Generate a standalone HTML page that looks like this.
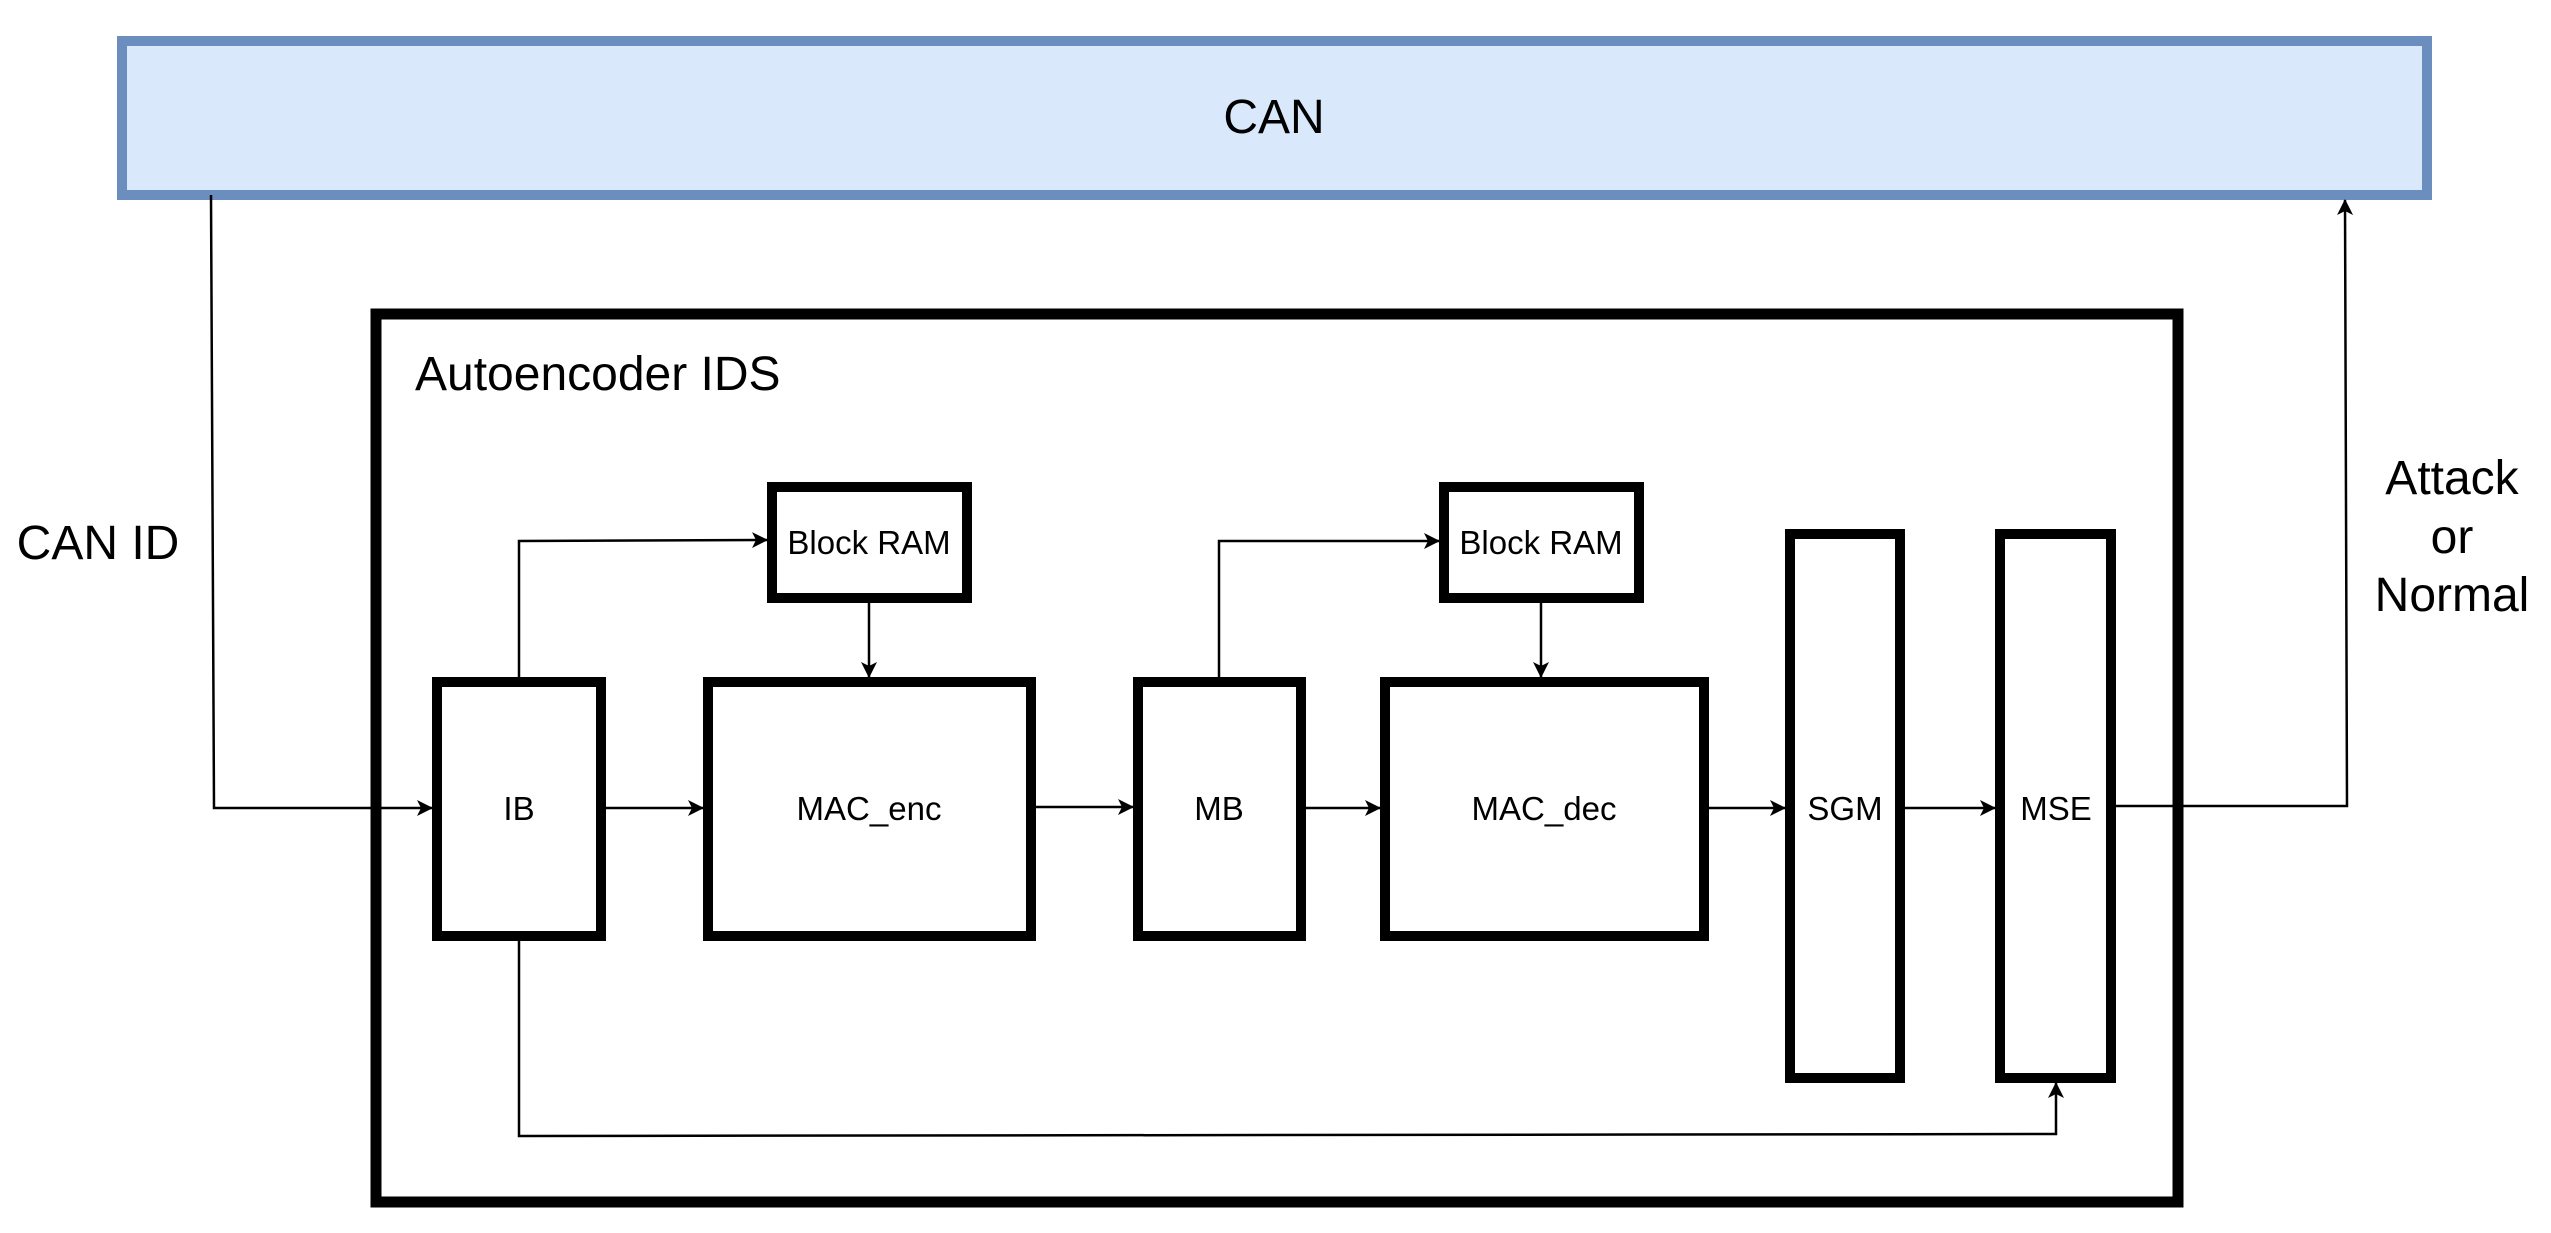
<!DOCTYPE html>
<html><head><meta charset="utf-8"><style>html,body{margin:0;padding:0;background:#fff}svg{display:block}</style></head>
<body>
<svg width="2551" height="1233" viewBox="0 0 2551 1233" xmlns="http://www.w3.org/2000/svg" font-family="'Liberation Sans', Arial, sans-serif">
<defs>
<marker id="b" markerWidth="16" markerHeight="16" refX="15" refY="8" orient="auto" markerUnits="userSpaceOnUse" viewBox="0 0 16 16">
<path d="M0,0 L16,8 L0,16 L4,8 Z" fill="#000"/>
</marker>
</defs>
<rect x="122" y="41" width="2305" height="154" fill="#dae8fc" stroke="#6c8ebf" stroke-width="10"/>
<text x="1274" y="133" font-size="48" text-anchor="middle">CAN</text>
<rect x="376" y="314" width="1802" height="888" fill="none" stroke="#000" stroke-width="11"/>
<text x="415" y="390" font-size="48">Autoencoder IDS</text>
<g fill="#fff" stroke="#000" stroke-width="10">
<rect x="437" y="682" width="164" height="254"/>
<rect x="708" y="682" width="323" height="254"/>
<rect x="772" y="487" width="195" height="111"/>
<rect x="1138" y="682" width="163" height="254"/>
<rect x="1385" y="682" width="319" height="254"/>
<rect x="1444" y="487" width="195" height="111"/>
<rect x="1790" y="534" width="110" height="544"/>
<rect x="2000" y="534" width="111" height="544"/>
</g>
<g font-size="33" text-anchor="middle">
<text x="519" y="820">IB</text>
<text x="869" y="820">MAC_enc</text>
<text x="869" y="554">Block RAM</text>
<text x="1219" y="820">MB</text>
<text x="1544" y="820">MAC_dec</text>
<text x="1541" y="554">Block RAM</text>
<text x="1845" y="820">SGM</text>
<text x="2056" y="820">MSE</text>
</g>
<g fill="none" stroke="#000" stroke-width="2.5">
<polyline points="211,195 214,808 432,808" marker-end="url(#b)"/>
<line x1="605" y1="808" x2="703" y2="808" marker-end="url(#b)"/>
<line x1="1035" y1="807" x2="1133" y2="807" marker-end="url(#b)"/>
<line x1="1305" y1="808" x2="1380" y2="808" marker-end="url(#b)"/>
<line x1="1708" y1="808" x2="1785" y2="808" marker-end="url(#b)"/>
<line x1="1904" y1="808" x2="1995" y2="808" marker-end="url(#b)"/>
<polyline points="519,678 519,541 767,540" marker-end="url(#b)"/>
<polyline points="1219,678 1219,541 1439,541" marker-end="url(#b)"/>
<line x1="869" y1="602" x2="869" y2="677" marker-end="url(#b)"/>
<line x1="1541" y1="602" x2="1541" y2="677" marker-end="url(#b)"/>
<polyline points="519,940 519,1136 2056,1134 2056,1083" marker-end="url(#b)"/>
<polyline points="2115,806 2347,806 2345,200" marker-end="url(#b)"/>
</g>
<text x="98" y="559" font-size="48" text-anchor="middle">CAN ID</text>
<g font-size="48" text-anchor="middle">
<text x="2452" y="494">Attack</text>
<text x="2452" y="553">or</text>
<text x="2452" y="611">Normal</text>
</g>
</svg>
</body></html>
